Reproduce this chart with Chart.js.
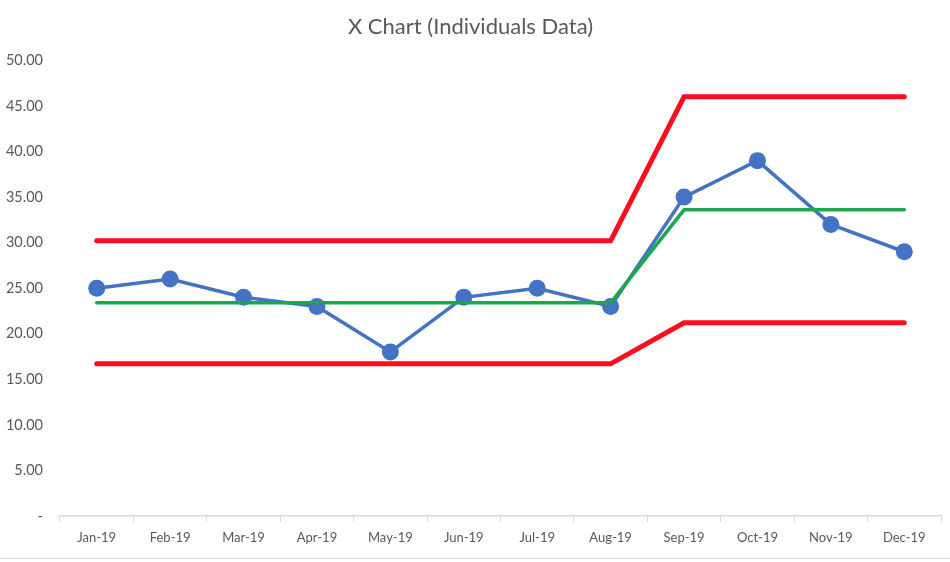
<!DOCTYPE html>
<html>
<head>
<meta charset="utf-8">
<script src="https://cdn.jsdelivr.net/npm/chart.js@4"></script>
<style>
  body { margin: 0; background: #fff; }
  #wrap { width: 950px; height: 558px; border-bottom: 1px solid #d9d9d9; }
</style>
</head>
<body>
<div id="wrap"><canvas id="xChart" width="950" height="558"></canvas></div>
<script>
const months = ['Jan-19', 'Feb-19', 'Mar-19', 'Apr-19', 'May-19', 'Jun-19',
                'Jul-19', 'Aug-19', 'Sep-19', 'Oct-19', 'Nov-19', 'Dec-19'];
const values = [25, 26, 24, 23, 18, 24, 25, 23, 35, 39, 32, 29];
const average = [23.4, 23.4, 23.4, 23.4, 23.4, 23.4, 23.4, 23.4, 33.6, 33.6, 33.6, 33.6];
const upperLimit = [30.2, 30.2, 30.2, 30.2, 30.2, 30.2, 30.2, 30.2, 46.0, 46.0, 46.0, 46.0];
const lowerLimit = [16.7, 16.7, 16.7, 16.7, 16.7, 16.7, 16.7, 16.7, 21.2, 21.2, 21.2, 21.2];

const textColor = '#595959';
const fontFamily = 'Lato, "Open Sans", sans-serif';

const ctx = document.getElementById('xChart').getContext('2d');

const chart = new Chart(ctx, {
    type: 'line',
    data: {
        labels: months,
        datasets: [
            {
                label: 'X',
                data: values,
                borderColor: '#4472c4',
                backgroundColor: '#4472c4',
                borderWidth: 3.5,
                pointRadius: 8.5,
                pointHoverRadius: 8.5,
                pointBorderWidth: 0,
                order: 3
            },
            {
                label: 'Average',
                data: average,
                borderColor: '#1aa84e',
                borderWidth: 3.5,
                pointRadius: 0,
                borderCapStyle: 'round',
                order: 2
            },
            {
                label: 'UCL',
                data: upperLimit,
                borderColor: '#ff0d1d',
                borderWidth: 5,
                pointRadius: 0,
                borderCapStyle: 'round',
                order: 1
            },
            {
                label: 'LCL',
                data: lowerLimit,
                borderColor: '#ff0d1d',
                borderWidth: 5,
                pointRadius: 0,
                borderCapStyle: 'round',
                order: 1
            }
        ]
    },
    options: {
        responsive: false,
        animation: false,
        layout: { padding: { left: 0, right: 9, top: 0, bottom: 0 } },
        plugins: {
            legend: { display: false },
            tooltip: { enabled: false },
            title: {
                display: true,
                text: 'X Chart (Individuals Data)',
                color: textColor,
                font: { family: fontFamily, size: 22, weight: 'normal' },
                padding: { top: 14, bottom: 20 }
            }
        },
        scales: {
            x: {
                offset: true,
                grid: {
                    offset: true,
                    drawOnChartArea: false,
                    drawTicks: true,
                    tickLength: 6,
                    color: '#d9d9d9'
                },
                border: { color: '#d9d9d9', width: 1.5 },
                ticks: {
                    color: textColor,
                    font: { family: fontFamily, size: 13 },
                    padding: 8,
                    maxRotation: 0,
                    autoSkip: false
                },
                afterFit: function (scale) { scale.height = 42; }
            },
            y: {
                min: 0,
                max: 50,
                grid: { display: false, drawTicks: false },
                border: { display: false },
                ticks: {
                    stepSize: 5,
                    color: textColor,
                    font: { family: fontFamily, size: 14.5 },
                    padding: 17,
                    callback: function (v) { return v === 0 ? '-' : v.toFixed(2); }
                },
                afterFit: function (scale) { scale.width = 60; }
            }
        }
    }
});
</script>
</body>
</html>
